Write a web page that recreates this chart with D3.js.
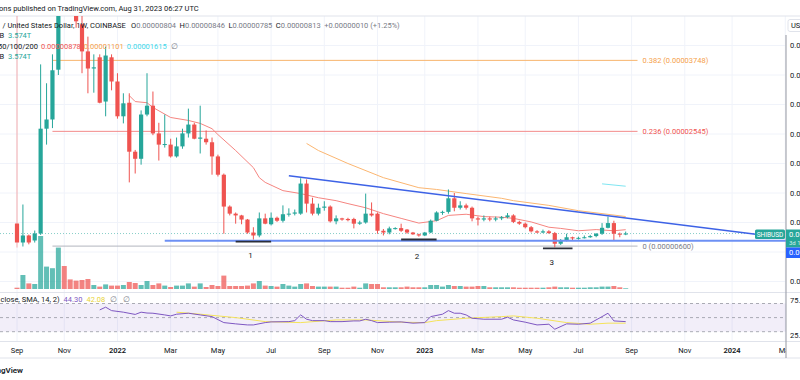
<!DOCTYPE html>
<html><head><meta charset="utf-8">
<script src="https://cdn.jsdelivr.net/npm/d3@7"></script>
<style>body{margin:0;background:#fff}svg{display:block;font-family:Roboto,"Noto Sans",sans-serif}</style>
</head><body><svg id="c" width="800" height="380"></svg>
<script>
// ---- data (prices in micro-USD, 1e-6) ----
const opens  = [9.83,6.61,7.80,6.95,8.14,25.9,27.46,35.9,70.0,55.0, 50.0,43.6,39.0,36.1,38.0,30.5,38.0,33.9,28.0,30.3, 22.0,20.8,28.3,29.8,25.1,23.2,23.2,21.2,22.9,25.1, 26.6,24.2,24.2,23.6,21.2,18.1,12.7,11.5,11.2,10.5, 8.3,7.8,10.7,9.7,10.8,10.3,11.4,11.5,11.5,16.6, 13.2,11.5,12.5,12.7,10.2,10.7,10.6,10.6,9.8,10.0, 11.5,11.5,8.6,8.3,8.95,9.05,8.8,8.3,8.0,7.8, 8.3,10.3,11.7,11.8,14.1,12.5,12.9,12.5,10.7,10.5, 10.7,10.5,10.7,10.9,11.2,10.1,9.8,9.2,8.5,8.3, 8.5,8.2,6.4,6.9,7.5,7.3,7.4,7.5,7.7,8.1, 9.1,9.9,8.1,8.04];
const highs  = [50,13.05,7.95,8.64,36.8,33.6,38.5,88.0,72.0,60.0, 52.0,47.0,41.5,38.5,38.5,39.8,38.5,35.3,31.9,31.9, 22.3,29.0,35.3,32.2,26.9,28.3,24.2,24.4,25.9,29.3, 26.9,29.8,25.6,24.4,21.5,18.3,12.9,11.7,11.3,10.6, 9.2,11.7,11.5,11.7,11.0,12.9,12.4,12.2,17.5,17.3, 14.2,13.2,13.6,12.9,11.2,10.8,10.8,10.8,10.3,14.9, 13.4,11.7,8.9,9.3,9.2,9.8,8.9,8.4,8.1,8.4, 10.5,11.9,12.0,15.6,15.0,13.6,13.2,12.7,11.0,11.2, 11.0,11.0,11.1,11.6,11.4,10.3,10.0,9.4,8.7,8.8, 8.7,8.4,7.2,8.1,7.6,7.6,7.8,7.9,8.2,9.9, 11.0,10.3,8.3,8.46];
const lows   = [5.76,5.93,6.30,6.60,7.90,23.2,26.0,35.0,50.0,46.0, 43.0,35.3,31.9,32.0,30.2,28.0,32.4,27.6,26.8,16.8, 18.3,19.8,28.0,24.8,20.5,22.7,21.0,21.0,22.5,24.4, 24.1,21.7,23.2,18.1,17.8,8.1,11.2,9.8,9.7,8.1, 7.1,7.5,9.7,9.5,10.1,10.0,11.0,11.2,11.3,11.7, 11.2,11.2,12.0,10.0,9.7,10.3,10.2,9.0,9.6,9.8, 11.0,8.1,7.8,8.0,8.8,8.4,8.1,7.9,7.6,7.7, 8.2,10.2,11.3,11.5,11.9,12.2,12.2,10.2,9.5,10.2, 10.2,10.2,10.4,10.7,9.9,9.6,9.0,8.3,8.2,8.2, 8.1,5.8,6.2,6.8,6.9,7.1,7.3,7.4,7.5,7.9, 9.0,6.9,7.5,7.85];
const closes = [6.61,7.80,6.61,8.14,25.9,27.46,35.8,70.0,55.0,50.0, 44.1,39.0,36.1,36.3,30.3,38.3,33.9,28.0,30.2,22.0, 20.8,28.3,29.8,25.1,23.2,23.3,21.2,22.9,25.1,26.6, 24.2,24.4,23.6,21.2,18.1,12.7,11.5,11.2,10.5,8.3, 7.8,10.7,9.8,10.8,10.3,11.4,11.5,11.7,16.6,13.2, 11.5,12.5,12.7,10.2,10.7,10.5,10.4,9.8,10.0,11.5, 11.2,8.6,8.3,9.0,9.05,8.6,8.3,8.0,7.8,8.3, 10.3,11.7,11.8,14.1,12.5,12.9,12.5,10.7,10.5,10.7, 10.5,10.7,10.9,11.2,10.1,9.8,9.2,8.5,8.3,8.5, 8.2,6.4,6.9,7.5,7.3,7.4,7.5,7.7,8.1,9.1, 9.9,8.1,8.03,8.13];
// volume in trillions of SHIB
const volumes = [6.5,70,28,25,265,112,104,207,115,48, 42,45,50,20,12,23,17,17,20,35, 30,20,40,20,28,17,10,17,17,28, 12,28,10,20,15,67,15,15,15,17, 28,40,17,15,12,25,17,12,25,28, 15,12,12,12,12,6.5,6.5,12,6.5,28, 25,25,8.5,8.5,8.5,8.5,12,8.5,8.5,8.5, 20,20,12,20,15,15,12,12,15,15, 8.5,8.5,8.5,8.5,8.5,6.5,6.5,6.5,6.5,6.5, 8.5,12,8.5,8.5,6.5,6.5,6.5,8.5,8.5,12, 12,15,8.5,3.574];
// moving averages (candle index, value)
const ma50Idx = [19,20,22,23,26,29,31,33,34,37,40,41,42,45,48,51,54,56,59,62,65,68,71,73,76,79,82,84,87,90,92,95,98,101,103];
const ma50Val = [31.5,30.5,30.3,29.5,27.8,27.3,26.8,25.9,24.9,22.2,19.3,17.6,16.8,15.4,14.9,14.2,13.7,13.2,12.5,11.5,10.7,9.9,10.3,11.2,11.4,11.0,10.9,10.7,10.1,9.2,9.0,8.6,8.8,8.6,8.78];
const ma100Idx = [49,51,56,62,68,71,76,82,84,90,95,103];
const ma100Val = [23.4,22.2,20.0,17.6,15.9,15.6,14.9,14.1,13.7,12.9,12.0,11.01];
const ma200Idx = [99,103];
const ma200Val = [16.55,16.15];
// RSI
const rsiIdx = [14,15,16,18,20,21,22,23,25,26,27,29,31,33,35,37,39,40,42,43,46,47,48,49,50,52,53,55,57,58,59,60,61,63,65,67,69,70,72,73,74,75,76,77,79,82,83,84,86,88,90,91,93,95,97,99,100,101,103];
const rsiVal = [60.9,64.8,59.9,57.7,54.5,57.7,56.5,56.2,53.8,52.4,54.8,56.2,53.8,51.4,42.9,41.1,39.6,39.6,42.9,43.9,44.3,45.7,53.8,47.7,45.7,45.7,44.3,44.3,45.3,45.3,47.7,45.7,42.9,43.5,43.9,42.1,42.9,51.4,54.8,59.9,56.2,56.2,53.8,49.1,47.7,47.7,50.6,46.7,43.5,39.6,40.6,33.5,41.1,40.6,42.1,51.4,56.2,45.3,44.30];
const rsiSmaIdx = [27,31,37,42,48,54,59,65,69,71,76,82,84,88,93,97,100,103];
const rsiSmaVal = [57.7,54.8,50,44.3,42.9,46.7,46.7,43.5,42.9,45.7,49.1,51.4,52.4,49.1,42.9,40.6,42.1,42.08];
// drawings (candle index, price)
const fibLevels = ["0.382","0.236","0"];
const fibPrices = [37.48,25.45,6.00];
const fibRange = [6,105];
const trendLine = [[46,17.93],[125,8.0]];
const supportLine = [[25,6.9]];
const pivotLines = [[[37,6.75],[43,6.75]],[[65,7.12],[71,7.12]],[[89,5.63],[94,5.63]]];
const pivotLabels = ["1","2","3"];
const pivotLabelPos = [[39.5,4.5],[67.7,4.3],[90.5,3.3]];
const priceTicks = [0,5,10,15,20,25,30,35,40];
const rsiTicks = [75,25];

// ---- layout ----
const PR = 786, TOP = 16, MAINB = 292.5, RSIB = 341.5, AXB = 358;
const FS = 7.5;
const svg = d3.select("#c");
const dates = d3.timeMonday.range(new Date(2021,8,6), new Date(2023,8,1));
const x = d3.scaleTime().domain([dates[0], dates[dates.length-1]]).range([17, 625.7]);
const at = i => new Date(+dates[0] + i*7*864e5);
const xi = i => x(at(i));
const y = d3.scaleLinear().domain([0,40]).range([281.5,45.5]);
const yv = d3.scaleLinear().domain([0,265]).range([289,236]);
const yr = d3.scaleLinear().domain([30,70]).range([331.7,303.5]);
const fmt = v => (v*1e-6).toFixed(8);
const UP="#26a69a", DN="#ef5350";

const defs = svg.append("defs");
defs.append("clipPath").attr("id","main").append("rect").attr("x",0).attr("y",TOP).attr("width",PR).attr("height",MAINB-TOP);
defs.append("clipPath").attr("id","pane").append("rect").attr("x",0).attr("y",0).attr("width",PR).attr("height",AXB);

// grid
const tickDates = d3.timeMonth.every(2).range(new Date(2021,8,1), new Date(2024,3,1)).map(m=>d3.timeMonday.ceil(m));
const g0 = svg.append("g").attr("clip-path","url(#pane)");
g0.selectAll(".vg").data(tickDates).join("line").attr("x1",d=>x(d)).attr("x2",d=>x(d)).attr("y1",TOP).attr("y2",RSIB).attr("stroke","#f0f3fa");
g0.selectAll(".hg").data(priceTicks).join("line").attr("x1",0).attr("x2",PR).attr("y1",d=>y(d)).attr("y2",d=>y(d)).attr("stroke","#f0f3fa");

// frame lines
[TOP,MAINB,RSIB,AXB].forEach(v=>svg.append("line").attr("x1",0).attr("x2",800).attr("y1",v).attr("y2",v).attr("stroke","#e0e3eb"));

const gm = svg.append("g").attr("clip-path","url(#main)");
// volume
gm.selectAll(".vol").data(volumes).join("rect")
  .attr("x",(d,i)=>xi(i)-2.5).attr("width",5)
  .attr("y",d=>yv(d)).attr("height",d=>yv(0)-yv(d))
  .attr("fill",(d,i)=>closes[i]>=opens[i]?UP:DN).attr("fill-opacity",0.72);

// fib
fibLevels.forEach((lv,k)=>{
  const col = ["#f7b46c","#f28b8b","#b2b5be"][k];
  const tcol = ["#f5a04a","#ef5350","#787b86"][k];
  gm.append("line").attr("x1",xi(fibRange[0])).attr("x2",xi(fibRange[1])).attr("y1",y(fibPrices[k])).attr("y2",y(fibPrices[k])).attr("stroke",col).attr("stroke-width",1);
  gm.append("text").attr("x",xi(fibRange[1])+5).attr("y",y(fibPrices[k])).attr("dy","0.35em").attr("font-size",FS).attr("fill",tcol).text(`${lv} (${fmt(fibPrices[k])})`);
});

// current price dotted line
gm.append("line").attr("x1",0).attr("x2",PR).attr("y1",y(closes[103])).attr("y2",y(closes[103])).attr("stroke",UP).attr("stroke-opacity",0.55).attr("stroke-dasharray","1,2");

// moving averages
const ln = (idx,val)=>d3.line().x((d,k)=>xi(idx[k])).y((d,k)=>y(val[k]))(val);
gm.append("path").attr("d",ln(ma50Idx,ma50Val)).attr("fill","none").attr("stroke","#f58580").attr("stroke-width",1);
gm.append("path").attr("d",ln(ma100Idx,ma100Val)).attr("fill","none").attr("stroke","#fbb671").attr("stroke-width",1);
gm.append("path").attr("d",ln(ma200Idx,ma200Val)).attr("fill","none").attr("stroke","#7fe6f2").attr("stroke-width",1);

// candles
const cg = gm.selectAll(".cd").data(closes).join("g");
cg.append("line").attr("x1",(d,i)=>xi(i)).attr("x2",(d,i)=>xi(i)).attr("y1",(d,i)=>y(highs[i])).attr("y2",(d,i)=>y(lows[i]))
  .attr("stroke",(d,i)=>closes[i]>=opens[i]?UP:DN).attr("stroke-width",1).attr("stroke-opacity",(d,i)=>i===0?0.45:1);
cg.append("rect").attr("x",(d,i)=>xi(i)-2.1).attr("width",4.2)
  .attr("y",(d,i)=>y(Math.max(opens[i],closes[i])))
  .attr("height",(d,i)=>Math.max(1,Math.abs(y(opens[i])-y(closes[i]))))
  .attr("fill",(d,i)=>closes[i]>=opens[i]?UP:DN);

// drawings
gm.append("line").attr("x1",xi(supportLine[0][0])).attr("x2",PR).attr("y1",y(supportLine[0][1])).attr("y2",y(supportLine[0][1])).attr("stroke","#6d90f4").attr("stroke-width",2);
gm.append("line").attr("x1",xi(trendLine[0][0])).attr("y1",y(trendLine[0][1])).attr("x2",xi(trendLine[1][0])).attr("y2",y(trendLine[1][1])).attr("stroke","#3d62e6").attr("stroke-width",1.6);
pivotLines.forEach((p,k)=>{
  gm.append("line").attr("x1",xi(p[0][0])).attr("x2",xi(p[1][0])).attr("y1",y(p[0][1])).attr("y2",y(p[1][1])).attr("stroke","#2a2e39").attr("stroke-width",1.8);
  gm.append("text").attr("x",xi(pivotLabelPos[k][0])).attr("y",y(pivotLabelPos[k][1])).attr("dy","0.35em").attr("text-anchor","middle").attr("font-size",8).attr("fill","#131722").text(pivotLabels[k]);
});

// RSI pane
const gr = svg.append("g").attr("clip-path","url(#pane)");
gr.append("rect").attr("x",0).attr("width",PR).attr("y",yr(70)).attr("height",yr(30)-yr(70)).attr("fill","#7e57c2").attr("fill-opacity",0.1);
[70,50,30].forEach(v=>gr.append("line").attr("x1",0).attr("x2",PR).attr("y1",yr(v)).attr("y2",yr(v)).attr("stroke","#9598a1").attr("stroke-dasharray","3,3").attr("stroke-width",0.8));
const lr = (idx,val)=>d3.line().x((d,k)=>xi(idx[k])).y((d,k)=>yr(val[k]))(val);
gr.append("path").attr("d",lr(rsiSmaIdx,rsiSmaVal)).attr("fill","none").attr("stroke","#f5e35a").attr("stroke-width",1);
gr.append("path").attr("d",lr(rsiIdx,rsiVal)).attr("fill","none").attr("stroke","#7e57c2").attr("stroke-width",1);

// time axis
const gt = svg.append("g").attr("clip-path","url(#pane)");
gt.selectAll("text").data(tickDates).join("text").attr("x",d=>x(d)).attr("y",350).attr("dy","0.35em").attr("text-anchor","middle")
  .attr("font-size",7.5).attr("font-weight",d=>d.getMonth()===0?600:400).attr("fill","#131722")
  .text(d=>d.getMonth()===0?d3.timeFormat("%Y")(d):d3.timeFormat("%b")(d));

// right axis
svg.append("line").attr("x1",PR).attr("x2",PR).attr("y1",35).attr("y2",AXB).attr("stroke","#9598a1");
svg.selectAll(".pl").data(priceTicks.filter(d=>d!==5)).join("text").attr("x",790).attr("y",d=>y(d)).attr("dy","0.35em").attr("font-size",7.5).attr("fill","#131722").text(d=>fmt(d));
svg.selectAll(".rl").data(rsiTicks).join("text").attr("x",790).attr("y",d=>yr(d)).attr("dy","0.35em").attr("font-size",7.5).attr("fill","#131722").text(d=>d.toFixed(2));
svg.append("rect").attr("x",788).attr("y",19.5).attr("width",20).attr("height",12).attr("rx",2).attr("fill","#fff").attr("stroke","#e0e3eb");
svg.append("text").attr("x",791).attr("y",25.5).attr("dy","0.35em").attr("font-size",7.5).attr("fill","#131722").text("USD");
// price labels
svg.append("rect").attr("x",755).attr("y",229.5).attr("width",30).attr("height",9.5).attr("rx",1.5).attr("fill",UP);
svg.append("text").attr("x",770).attr("y",234.3).attr("dy","0.35em").attr("text-anchor","middle").attr("font-size",6.5).attr("fill","#fff").text("SHIBUSD");
svg.append("rect").attr("x",PR).attr("y",229.5).attr("width",16).attr("height",18).attr("fill",UP);
svg.append("text").attr("x",789).attr("y",234.3).attr("dy","0.35em").attr("font-size",7.5).attr("fill","#fff").text(fmt(closes[103]));
svg.append("text").attr("x",789).attr("y",242.5).attr("dy","0.35em").attr("font-size",6).attr("fill","#d4f0ec").text("3d 17h");
svg.append("rect").attr("x",PR).attr("y",247.5).attr("width",16).attr("height",10.5).attr("fill","#2962ff");
svg.append("text").attr("x",789).attr("y",252.8).attr("dy","0.35em").attr("font-size",7.5).attr("fill","#fff").text(fmt(supportLine[0][1]));

// legends
const T = (xx,yy,s,c,w)=>svg.append("text").attr("x",xx).attr("y",yy).attr("dy","0.35em").attr("font-size",FS).attr("fill",c).attr("font-weight",w||400).text(s);
T(-1,8,"ons published on TradingView.com, Aug 31, 2023 06:27 UTC","#131722");
T(2.5,25,"/ United States Dollar, 1W, COINBASE","#131722");
const ohlc = svg.append("text").attr("x",131).attr("y",25).attr("dy","0.35em").attr("font-size",FS);
[["O",opens[103]],["H",highs[103]],["L",lows[103]],["C",closes[103]]].forEach(([l,v],k)=>{
  ohlc.append("tspan").attr("dx",k?3.5:0).attr("fill","#131722").text(l);
  ohlc.append("tspan").attr("fill","#787b86").text(fmt(v));
});
ohlc.append("tspan").attr("dx",3.5).attr("fill","#787b86").text("+0.00000010 (+1.25%)");
T(-0.5,35,"B","#131722"); T(8,35,"3.574T","#26a69a");
const maL = svg.append("text").attr("x",-2).attr("y",46).attr("dy","0.35em").attr("font-size",FS);
maL.append("tspan").attr("fill","#131722").text("50/100/200");
maL.append("tspan").attr("dx",3).attr("fill","#ef5350").text(fmt(ma50Val[ma50Val.length-1]));
maL.append("tspan").attr("dx",3).attr("fill","#f5a04a").text(fmt(ma100Val[ma100Val.length-1]));
maL.append("tspan").attr("dx",3).attr("fill","#3fd8ea").text(fmt(ma200Val[ma200Val.length-1]));
maL.append("tspan").attr("dx",4).attr("fill","#787b86").text("∅");
T(-0.5,56,"B","#131722"); T(8,56,"3.574T","#26a69a");
const rL = svg.append("text").attr("x",0.5).attr("y",299).attr("dy","0.35em").attr("font-size",FS);
rL.append("tspan").attr("fill","#131722").text("close, SMA, 14, 2)");
rL.append("tspan").attr("dx",4).attr("fill","#7e57c2").text(rsiVal[rsiVal.length-1].toFixed(2));
rL.append("tspan").attr("dx",4).attr("fill","#e8d43a").text(rsiSmaVal[rsiSmaVal.length-1].toFixed(2));
rL.append("tspan").attr("dx",5).attr("fill","#787b86").text("∅");
rL.append("tspan").attr("dx",6).attr("fill","#787b86").text("∅");
svg.append("text").attr("x",23).attr("y",370).attr("dy","0.35em").attr("text-anchor","end").attr("font-size",8).attr("font-weight",600).attr("fill","#131722").text("TradingView");
</script></body></html>
